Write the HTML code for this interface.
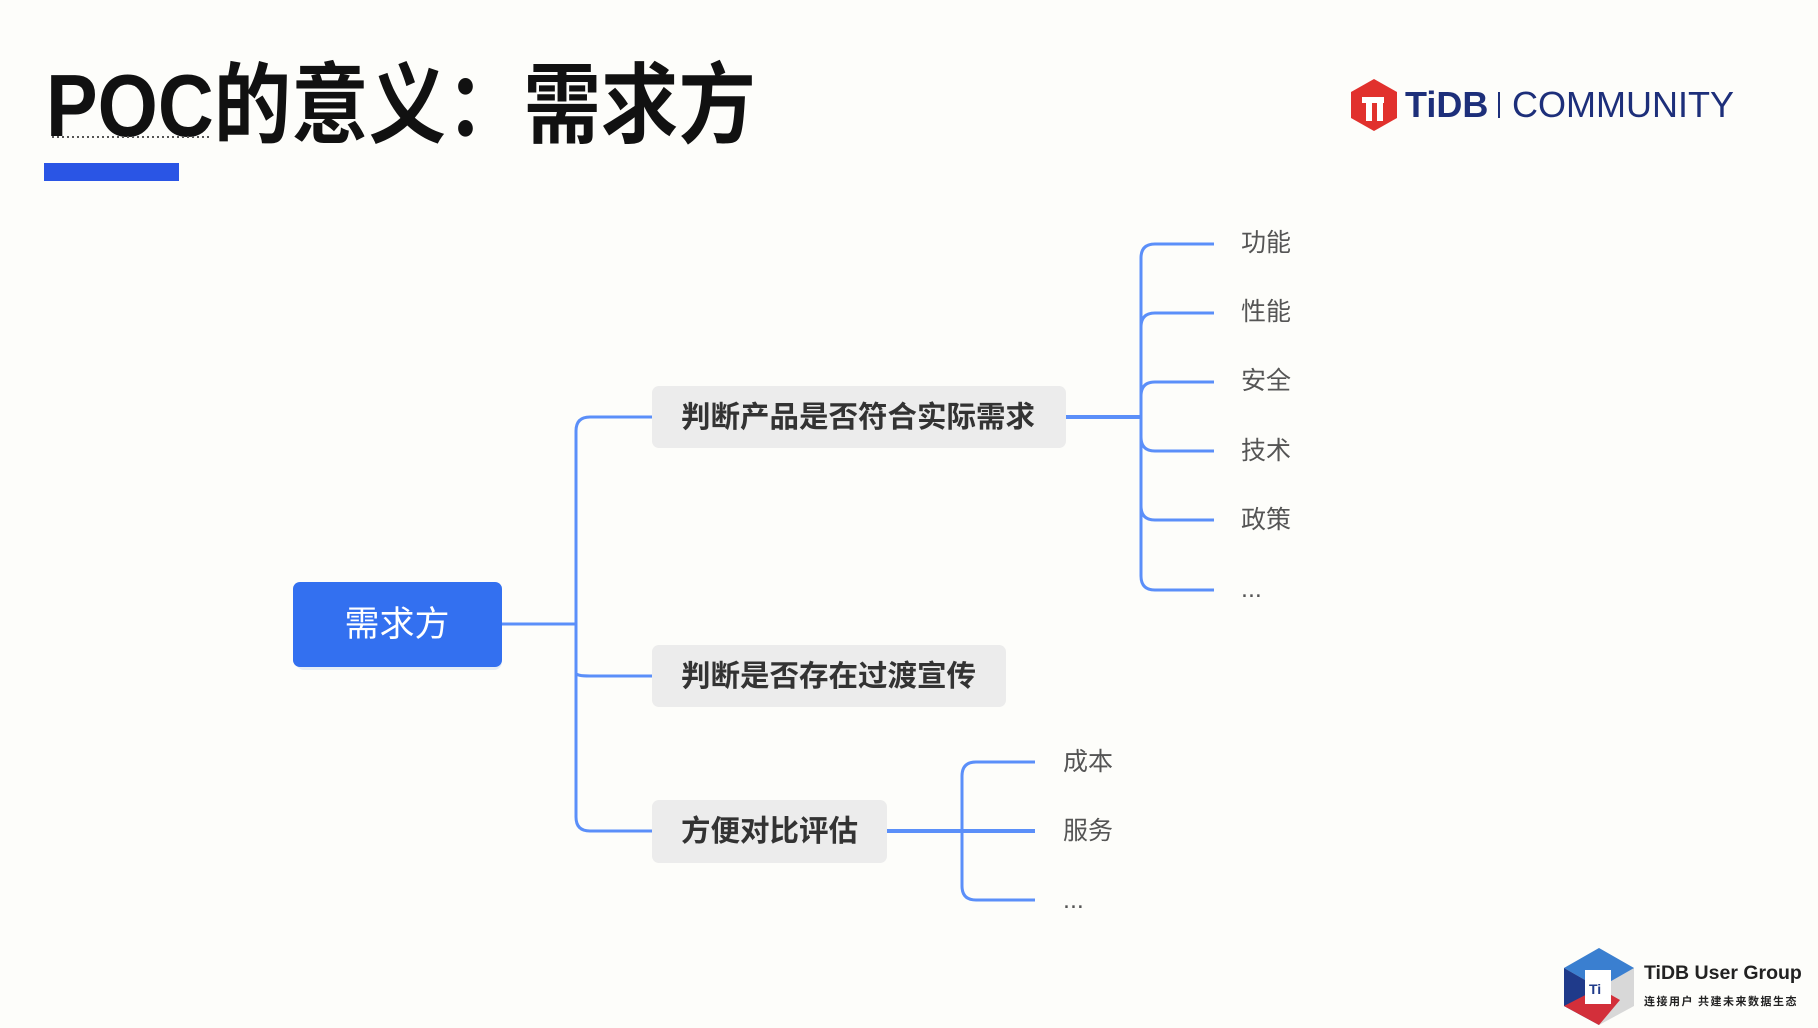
<!DOCTYPE html>
<html><head><meta charset="utf-8"><style>
html,body{margin:0;padding:0;background:#fdfdfa;}
svg{display:block}
</style></head><body>
<svg width="1818" height="1028" viewBox="0 0 1818 1028" xmlns="http://www.w3.org/2000/svg">
<rect width="1818" height="1028" fill="#fdfdfa"/>
<g transform="translate(46,136) scale(0.88,1)">
<text x="0" y="0" font-family="Liberation Sans, Noto Sans CJK SC, sans-serif" font-size="88" font-weight="bold" fill="#111">POC<tspan font-family="Noto Sans CJK SC, sans-serif">的意义：需求方</tspan></text>
</g>
<line x1="52" y1="137" x2="210" y2="137" stroke="#555" stroke-width="2" stroke-dasharray="2,3"/>
<rect x="44" y="163" width="135" height="18" fill="#2a55e5"/>
<!-- TiDB logo -->
<polygon points="1374,79 1397,92 1397,118 1374,131 1351,118 1351,92" fill="#e1312d"/>
<rect x="1362" y="97" width="22" height="6" fill="#fff"/><rect x="1366" y="97" width="6" height="24" fill="#fff"/><rect x="1377" y="103" width="6" height="18" fill="#fff"/>
<text x="1405" y="117" font-family="Liberation Sans, sans-serif" font-size="36" font-weight="bold" fill="#1d2f7a">TiDB</text>
<rect x="1498" y="92" width="2" height="26" fill="#1d2f7a"/>
<text x="1512" y="117" font-family="Liberation Sans, sans-serif" font-size="36" fill="#1d2f7a">COMMUNITY</text>
<!-- connectors -->
<g fill="none" stroke="#5b8ff9" stroke-width="3">
<path d="M502,624 H576"/>
<path d="M652,417 H590 Q576,417 576,431 V817 Q576,831 590,831 H652"/>
<path d="M576,673 Q576,676 590,676 H652"/>
<path d="M1066,417 H1141" stroke-width="4"/>
<path d="M1214,244 H1155 Q1141,244 1141,258 V576 Q1141,590 1155,590 H1214"/>
<path d="M1214,313 H1155 Q1141,313 1141,327"/>
<path d="M1214,382 H1155 Q1141,382 1141,396"/>
<path d="M1214,451 H1155 Q1141,451 1141,437"/>
<path d="M1214,520 H1155 Q1141,520 1141,506"/>
<path d="M887,831 H1035" stroke-width="4"/>
<path d="M1035,762 H976 Q962,762 962,776 V886 Q962,900 976,900 H1035"/>
</g>
<!-- root -->
<rect x="296" y="590" width="206" height="80" rx="8" fill="#3b7be0" opacity="0.12"/>
<rect x="293" y="582" width="209" height="85" rx="7" fill="#3370f0"/>
<text x="397" y="636" text-anchor="middle" font-family="Noto Sans CJK SC, sans-serif" font-size="35" fill="#fff">需求方</text>
<!-- nodes -->
<g font-family="Noto Sans CJK SC, sans-serif" font-size="29.5" font-weight="bold" fill="#333">
<rect x="652" y="386" width="414" height="62" rx="7" fill="#ececec"/>
<text x="681" y="427">判断产品是否符合实际需求</text>
<rect x="652" y="645" width="354" height="62" rx="7" fill="#ececec"/>
<text x="681" y="686">判断是否存在过渡宣传</text>
<rect x="652" y="800" width="235" height="63" rx="7" fill="#ececec"/>
<text x="681" y="841">方便对比评估</text>
</g>
<g font-family="Liberation Sans, Noto Sans CJK SC, sans-serif" font-size="25" fill="#555">
<text x="1241" y="251">功能</text>
<text x="1241" y="320">性能</text>
<text x="1241" y="389">安全</text>
<text x="1241" y="459">技术</text>
<text x="1241" y="528">政策</text>
<text x="1241" y="597">...</text>
<text x="1063" y="770">成本</text>
<text x="1063" y="839">服务</text>
<text x="1063" y="908">...</text>
</g>
<!-- user group logo -->
<polygon points="1599,948 1634,968 1634,1006 1599,1025 1564,1006 1564,968" fill="#d8d8d8"/>
<polygon points="1599,948 1634,968 1599,988 1564,968" fill="#3a7fd0"/>
<polygon points="1564,968 1599,988 1599,1025 1564,1006" fill="#1f3a8a"/>
<polygon points="1564,1006 1599,988 1620,1000 1599,1025" fill="#d32f3a"/>
<rect x="1585" y="970" width="26" height="34" fill="#fff"/>
<text x="1589" y="994" font-family="Liberation Sans, sans-serif" font-size="14" font-weight="bold" fill="#1f3a8a">Ti</text>
<text x="1644" y="979" font-family="Liberation Sans, sans-serif" font-size="19.5" font-weight="bold" fill="#222">TiDB User Group</text>
<text x="1644" y="1005" font-family="Noto Sans CJK SC, sans-serif" font-size="11" font-weight="bold" fill="#222" letter-spacing="1.5">连接用户 共建未来数据生态</text>
</svg>
</body></html>
